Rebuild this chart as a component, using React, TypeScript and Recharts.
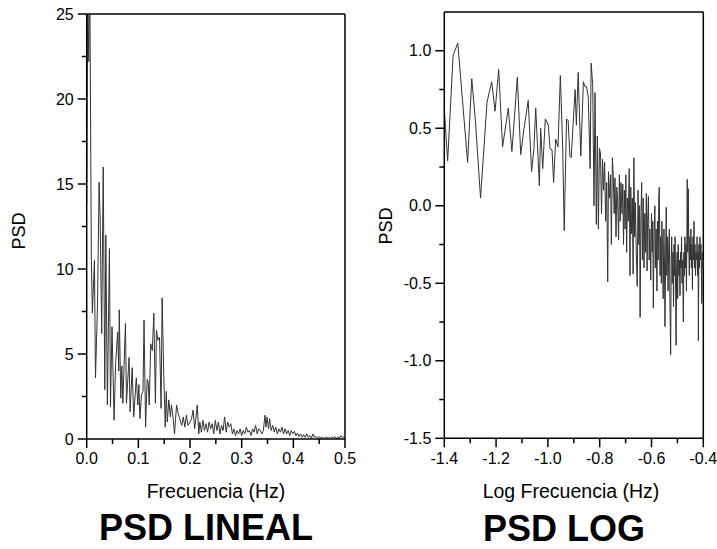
import React from 'react';
import { LineChart, Line, XAxis, YAxis, ReferenceLine } from 'recharts';

// PSD (lineal) : [frecuencia Hz, PSD]
const psdLineal: [number, number][] = [
  [0.0, 13.8], [0.002, 26.5], [0.004, 22.2], [0.006, 27], [0.009, 10.5], [0.011, 7.4], [0.015, 10.5],
  [0.017, 3.6], [0.021, 8.0], [0.024, 15.1], [0.026, 13.0], [0.029, 6.2], [0.032, 16.0], [0.035, 2.9],
  [0.037, 12.0], [0.04, 2.0], [0.044, 11.2], [0.046, 1.9], [0.049, 6.6], [0.053, 1.1], [0.056, 4.5],
  [0.06, 6.3], [0.062, 4.0], [0.063, 7.6], [0.066, 2.4], [0.068, 4.3], [0.07, 2.1], [0.075, 6.8],
  [0.077, 2.1], [0.082, 4.8], [0.084, 1.6], [0.088, 4.2], [0.091, 1.3], [0.096, 3.6], [0.099, 2.0],
  [0.101, 3.2], [0.103, 1.2], [0.106, 2.6], [0.109, 2.8], [0.111, 7.0], [0.114, 0.7], [0.117, 3.5],
  [0.119, 3.4], [0.121, 2.0], [0.124, 5.6], [0.127, 5.2], [0.13, 7.4], [0.133, 2.1], [0.135, 6.4],
  [0.138, 5.8], [0.141, 6.0], [0.144, 1.8], [0.146, 8.3], [0.149, 4.0], [0.152, 0.7], [0.154, 2.8],
  [0.156, 1.0], [0.159, 2.3], [0.162, 1.3], [0.164, 2.0], [0.167, 1.3], [0.17, 0.3], [0.174, 2.0],
  [0.177, 1.5], [0.18, 1.2], [0.184, 0.8], [0.187, 1.3], [0.19, 0.7], [0.193, 1.4], [0.196, 0.8],
  [0.2, 1.0], [0.203, 1.2], [0.206, 1.7], [0.209, 0.6], [0.214, 2.0], [0.217, 0.3], [0.219, 1.0],
  [0.222, 0.4], [0.225, 1.1], [0.228, 0.5], [0.231, 0.9], [0.234, 0.4], [0.237, 1.0], [0.24, 0.6],
  [0.243, 0.9], [0.246, 0.3], [0.249, 1.1], [0.252, 0.5], [0.255, 1.0], [0.258, 0.3], [0.261, 0.8],
  [0.264, 0.5], [0.267, 1.3], [0.27, 0.4], [0.273, 1.0], [0.276, 0.7], [0.279, 0.9], [0.282, 0.3],
  [0.285, 0.6], [0.288, 0.2], [0.291, 0.5], [0.294, 0.3], [0.297, 0.6], [0.3, 0.2], [0.303, 0.5],
  [0.306, 0.3], [0.309, 0.7], [0.312, 0.4], [0.315, 0.5], [0.318, 0.2], [0.321, 0.6], [0.324, 0.4],
  [0.327, 0.8], [0.33, 0.3], [0.333, 0.6], [0.336, 0.5], [0.339, 0.3], [0.342, 0.5], [0.345, 1.4],
  [0.347, 0.7], [0.349, 1.3], [0.352, 0.6], [0.354, 1.2], [0.357, 0.5], [0.36, 0.8], [0.363, 0.4],
  [0.366, 0.7], [0.369, 0.3], [0.372, 0.6], [0.375, 0.4], [0.378, 0.7], [0.381, 0.3], [0.384, 0.6],
  [0.387, 0.3], [0.39, 0.5], [0.393, 0.2], [0.396, 0.5], [0.399, 0.3], [0.402, 0.45], [0.405, 0.2],
  [0.408, 0.35], [0.411, 0.15], [0.414, 0.3], [0.417, 0.1], [0.42, 0.25], [0.423, 0.1], [0.426, 0.3],
  [0.429, 0.1], [0.432, 0.2], [0.435, 0.05], [0.438, 0.3], [0.441, 0.1], [0.444, 0.15], [0.447, 0.05],
  [0.45, 0.15], [0.453, 0.05], [0.456, 0.1], [0.459, 0.03], [0.462, 0.12], [0.465, 0.05], [0.468, 0.1],
  [0.471, 0.03], [0.474, 0.12], [0.477, 0.05], [0.48, 0.15], [0.483, 0.04], [0.486, 0.12], [0.489, 0.05],
  [0.492, 0.2], [0.495, 0.08], [0.498, 0.15], [0.5, 0.1],
];

// PSD (log) : [log frecuencia, log PSD]
const psdLog: [number, number][] = [
  [-1.4, 0.62], [-1.387, 0.29], [-1.366, 0.97], [-1.348, 1.05], [-1.31, 0.28], [-1.294, 0.82],
  [-1.28, 0.55], [-1.26, 0.05], [-1.235, 0.67], [-1.217, 0.8], [-1.204, 0.61], [-1.19, 0.88],
  [-1.175, 0.38], [-1.166, 0.48], [-1.153, 0.63], [-1.139, 0.35], [-1.13, 0.55], [-1.118, 0.83],
  [-1.105, 0.33], [-1.092, 0.5], [-1.076, 0.68], [-1.063, 0.22], [-1.054, 0.37], [-1.047, 0.63],
  [-1.033, 0.13], [-1.028, 0.5], [-1.02, 0.24], [-1.01, 0.56], [-0.998, 0.52], [-0.992, 0.37],
  [-0.984, 0.36], [-0.978, 0.15], [-0.97, 0.43], [-0.961, 0.38], [-0.952, 0.84], [-0.943, 0.38],
  [-0.937, -0.16], [-0.928, 0.56], [-0.922, 0.55], [-0.915, 0.32], [-0.91, 0.31], [-0.895, 0.75],
  [-0.89, 0.52], [-0.883, 0.86], [-0.873, 0.32], [-0.863, 0.8], [-0.857, 0.77], [-0.851, 0.77],
  [-0.844, 0.7], [-0.837, 0.24], [-0.833, 0.92], [-0.827, 0.78], [-0.822, 0.0], [-0.818, 0.73],
  [-0.813, -0.12], [-0.809, 0.45], [-0.805, -0.15], [-0.801, 0.37], [-0.797, 0.34], [-0.793, -0.05],
  [-0.789, 0.3], [-0.785, 0.1], [-0.781, 0.28], [-0.777, -0.1], [-0.773, 0.15], [-0.769, -0.49],
  [-0.766, 0.22], [-0.762, 0.05], [-0.758, 0.2], [-0.755, -0.25], [-0.751, 0.31], [-0.748, 0.21],
  [-0.744, -0.05], [-0.741, 0.18], [-0.737, -0.2], [-0.734, 0.12], [-0.731, 0.05], [-0.727, -0.22],
  [-0.724, 0.2], [-0.721, -0.1], [-0.718, 0.15], [-0.714, -0.05], [-0.711, 0.14], [-0.708, -0.25],
  [-0.705, 0.1], [-0.702, -0.15], [-0.699, 0.2], [-0.696, -0.3], [-0.693, 0.05], [-0.69, -0.1],
  [-0.686, 0.24], [-0.683, -0.45], [-0.68, 0.12], [-0.677, -0.18], [-0.674, 0.05], [-0.671, -0.44],
  [-0.668, 0.31], [-0.665, -0.2], [-0.662, 0.02], [-0.659, -0.3], [-0.655, -0.52], [-0.652, 0.1],
  [-0.649, -0.25], [-0.646, 0.0], [-0.644, -0.72], [-0.641, -0.1], [-0.638, 0.15], [-0.635, -0.35],
  [-0.632, 0.05], [-0.629, -0.4], [-0.626, -0.05], [-0.623, -0.3], [-0.62, 0.08], [-0.617, -0.42],
  [-0.615, -0.1], [-0.612, 0.06], [-0.609, -0.35], [-0.606, -0.15], [-0.603, -0.48], [-0.6, -0.05],
  [-0.597, -0.3], [-0.595, -0.1], [-0.593, -0.66], [-0.59, -0.2], [-0.587, 0.0], [-0.585, -0.4],
  [-0.582, -0.15], [-0.579, -0.55], [-0.577, -0.1], [-0.574, -0.35], [-0.572, 0.05], [-0.57, 0.12],
  [-0.567, -0.45], [-0.565, -0.2], [-0.562, -0.5], [-0.56, -0.1], [-0.557, -0.3], [-0.555, -0.6],
  [-0.552, -0.15], [-0.55, -0.35], [-0.548, -0.78], [-0.545, -0.25], [-0.543, -0.01], [-0.541, -0.45],
  [-0.538, -0.2], [-0.536, -0.55], [-0.534, -0.3], [-0.531, -0.15], [-0.529, -0.6], [-0.526, -0.96],
  [-0.524, -0.35], [-0.522, -0.2], [-0.52, -0.5], [-0.517, -0.3], [-0.515, -0.65], [-0.513, -0.25],
  [-0.511, -0.45], [-0.509, -0.2], [-0.507, -0.55], [-0.505, -0.9], [-0.503, -0.4], [-0.501, -0.3],
  [-0.499, -0.6], [-0.497, -0.25], [-0.494, -0.45], [-0.492, -0.35], [-0.49, -0.58], [-0.488, -0.3],
  [-0.486, -0.4], [-0.484, -0.2], [-0.482, -0.5], [-0.48, -0.35], [-0.477, -0.75], [-0.475, -0.3],
  [-0.473, -0.45], [-0.471, -0.2], [-0.469, -0.4], [-0.467, -0.25], [-0.465, -0.55], [-0.463, -0.1],
  [-0.462, 0.17], [-0.46, -0.3], [-0.458, 0.11], [-0.456, -0.25], [-0.454, -0.45], [-0.452, -0.2],
  [-0.45, -0.35], [-0.448, -0.15], [-0.446, -0.4], [-0.444, -0.25], [-0.442, -0.54], [-0.44, -0.2],
  [-0.438, -0.35], [-0.436, -0.1], [-0.434, -0.4], [-0.432, -0.25], [-0.43, -0.45], [-0.428, -0.3],
  [-0.426, -0.35], [-0.424, -0.2], [-0.422, -0.45], [-0.42, -0.3], [-0.419, -0.87], [-0.417, -0.25],
  [-0.415, -0.4], [-0.413, -0.2], [-0.411, -0.35], [-0.409, -0.25], [-0.407, -0.45], [-0.406, -0.63],
  [-0.404, -0.3], [-0.402, -0.4], [-0.4, -0.35],
];

const linXTicks = [0, 0.05, 0.1, 0.15, 0.2, 0.25, 0.3, 0.35, 0.4, 0.45, 0.5];
const linXMajor = [0, 0.1, 0.2, 0.3, 0.4, 0.5];
const linYTicks = [0, 2.5, 5, 7.5, 10, 12.5, 15, 17.5, 20, 22.5, 25];
const linYMajor = [0, 5, 10, 15, 20, 25];

const logXTicks = [-1.4, -1.3, -1.2, -1.1, -1.0, -0.9, -0.8, -0.7, -0.6, -0.5, -0.4];
const logXMajor = [-1.4, -1.2, -1.0, -0.8, -0.6, -0.4];
const logYTicks = [-1.5, -1.25, -1.0, -0.75, -0.5, -0.25, 0, 0.25, 0.5, 0.75, 1.0];
const logYMajor = [-1.5, -1.0, -0.5, 0, 0.5, 1.0];

const FONT = '"Liberation Sans", Arial, Helvetica, sans-serif';
const TICK_SIZE = 9;
const TICK_MARGIN_X = 5;
const TICK_MARGIN_Y = 4;
const AXIS_STROKE = 1.5;

const isIn = (list: number[], v: number) => list.some((m) => Math.abs(m - v) < 1e-6);

const makeXTick = (majors: number[], labels: (v: number) => string) => (props: any) => {
  const { x, y, payload } = props;
  const v = payload.value as number;
  const major = isIn(majors, v);
  const axisY = y - TICK_SIZE - TICK_MARGIN_X;
  return (
    <g>
      <line x1={x} x2={x} y1={axisY} y2={axisY + (major ? TICK_SIZE : 5)} stroke="#000" strokeWidth={AXIS_STROKE} />
      {major && (
        <text x={x} y={y} dy="0.71em" textAnchor="middle" fontSize={16} fontFamily={FONT} fill="#000">
          {labels(v)}
        </text>
      )}
    </g>
  );
};

const makeYTick = (majors: number[], labels: (v: number) => string) => (props: any) => {
  const { x, y, payload } = props;
  const v = payload.value as number;
  const major = isIn(majors, v);
  const axisX = x + TICK_SIZE + TICK_MARGIN_Y;
  return (
    <g>
      <line x1={axisX - (major ? TICK_SIZE : 5)} x2={axisX} y1={y} y2={y} stroke="#000" strokeWidth={AXIS_STROKE} />
      {major && (
        <text x={x} y={y} dy="0.355em" textAnchor="end" fontSize={16} fontFamily={FONT} fill="#000">
          {labels(v)}
        </text>
      )}
    </g>
  );
};

const linRows = psdLineal.map(([f, p]) => ({ f, p }));
const logRows = psdLog.map(([f, p]) => ({ f, p }));

const lineColor = '#333333';

export default function App() {
  return (
    <div style={{ position: 'absolute', left: 0, top: 0, width: 717, height: 549, background: '#fff', overflow: 'hidden' }}>
      <div style={{ position: 'absolute', left: 0, top: 0 }}>
        <LineChart width={360} height={549} data={linRows} margin={{ top: 14, right: 15, bottom: 80, left: 0 }}>
          <XAxis
            dataKey="f"
            type="number"
            domain={[0, 0.5]}
            ticks={linXTicks}
            interval={0}
            height={30}
            tickSize={TICK_SIZE}
            tickMargin={TICK_MARGIN_X}
            tickLine={false}
            axisLine={{ stroke: '#000', strokeWidth: AXIS_STROKE }}
            tick={makeXTick(linXMajor, (v) => v.toFixed(1))}
          />
          <YAxis
            type="number"
            domain={[0, 25]}
            allowDataOverflow
            ticks={linYTicks}
            interval={0}
            width={86.7}
            tickSize={TICK_SIZE}
            tickMargin={TICK_MARGIN_Y}
            tickLine={false}
            axisLine={{ stroke: '#000', strokeWidth: AXIS_STROKE }}
            tick={makeYTick(linYMajor, (v) => String(v))}
          />
          <ReferenceLine y={25} stroke="#000" strokeWidth={AXIS_STROKE} />
          <ReferenceLine x={0.5} stroke="#000" strokeWidth={AXIS_STROKE} />
          <Line dataKey="p" type="linear" stroke={lineColor} strokeWidth={1} dot={false} isAnimationActive={false} />
        </LineChart>
      </div>
      <div style={{ position: 'absolute', left: 360, top: 0 }}>
        <LineChart width={357} height={549} data={logRows} margin={{ top: 12, right: 13.7, bottom: 80.7, left: 0 }}>
          <XAxis
            dataKey="f"
            type="number"
            domain={[-1.4, -0.4]}
            ticks={logXTicks}
            interval={0}
            height={30}
            tickSize={TICK_SIZE}
            tickMargin={TICK_MARGIN_X}
            tickLine={false}
            axisLine={{ stroke: '#000', strokeWidth: AXIS_STROKE }}
            tick={makeXTick(logXMajor, (v) => v.toFixed(1))}
          />
          <YAxis
            type="number"
            domain={[-1.5, 1.25]}
            allowDataOverflow
            ticks={logYTicks}
            interval={0}
            width={84.3}
            tickSize={TICK_SIZE}
            tickMargin={TICK_MARGIN_Y}
            tickLine={false}
            axisLine={{ stroke: '#000', strokeWidth: AXIS_STROKE }}
            tick={makeYTick(logYMajor, (v) => v.toFixed(1))}
          />
          <ReferenceLine y={1.25} stroke="#000" strokeWidth={AXIS_STROKE} />
          <ReferenceLine x={-0.4} stroke="#000" strokeWidth={AXIS_STROKE} />
          <Line dataKey="p" type="linear" stroke={lineColor} strokeWidth={1} dot={false} isAnimationActive={false} />
        </LineChart>
      </div>
      <svg width={717} height={549} style={{ position: 'absolute', left: 0, top: 0, pointerEvents: 'none' }}>
        <text x={25} y={231} transform="rotate(-90 25 231)" textAnchor="middle" fontSize={18} fontFamily={FONT} fill="#000">PSD</text>
        <text x={392} y={226} transform="rotate(-90 392 226)" textAnchor="middle" fontSize={18} fontFamily={FONT} fill="#000">PSD</text>
        <text x={216} y={498} textAnchor="middle" fontSize={19.5} fontFamily={FONT} fill="#000">Frecuencia (Hz)</text>
        <text x={571} y={498} textAnchor="middle" fontSize={19.5} fontFamily={FONT} fill="#000">Log Frecuencia (Hz)</text>
        <text x={206} y={540} textAnchor="middle" fontSize={36} fontWeight="bold" fontFamily={FONT} fill="#000">PSD LINEAL</text>
        <text x={564} y={541} textAnchor="middle" fontSize={36} fontWeight="bold" fontFamily={FONT} fill="#000">PSD LOG</text>
      </svg>
    </div>
  );
}
